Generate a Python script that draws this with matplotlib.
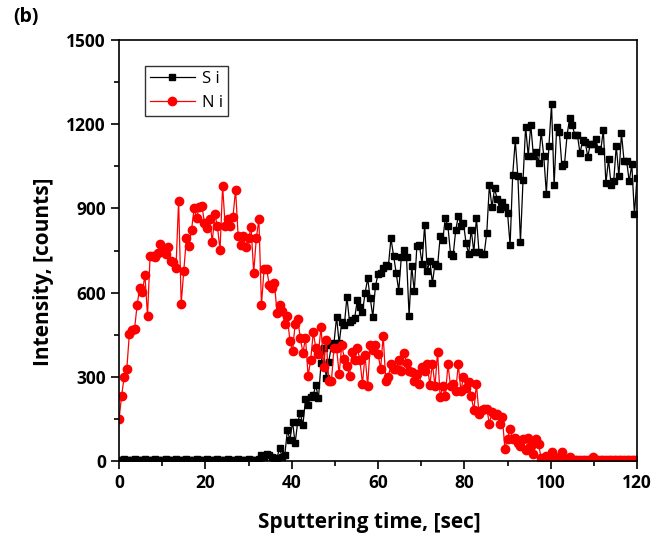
import numpy as np
import matplotlib
matplotlib.use("Agg")
import matplotlib.pyplot as plt
from matplotlib.ticker import MultipleLocator

# sputtering depth profile, one sample every 0.6 s
time_s = np.linspace(0, 120, 201)

si_counts = [
    5, 3, 6, 4, 5, 3, 6, 4, 5, 3, 6, 4, 5, 3, 6, 4, 5, 3, 6, 4,
    5, 3, 6, 4, 5, 3, 6, 4, 5, 3, 6, 4, 5, 3, 6, 4, 5, 3, 6, 4,
    5, 3, 6, 4, 5, 3, 6, 4, 5, 3, 6, 4, 5, 4, 6,
    22, 16, 26, 22, 16, 10, 12, 45, 15, 20,
    110, 75, 140, 63, 140, 170, 128, 220, 200, 229,
    236, 270, 223, 348, 401, 295, 354, 413, 420, 514,
    419, 496, 484, 585, 496, 502, 510, 573, 550, 532,
    597, 651, 580, 514, 623, 665, 669, 686, 698, 695,
    793, 732, 671, 606, 726, 753, 726, 518, 695, 604,
    765, 769, 702, 842, 677, 714, 634, 702, 695, 800,
    787, 867, 836, 738, 732, 822, 873, 836, 849, 775,
    738, 824, 744, 867, 744, 738, 738, 814, 983, 904,
    971, 934, 898, 922, 904, 885, 769, 1020, 1142, 1014,
    781, 1002, 1191, 1087, 1197, 1087, 1100, 1063, 1173, 1087,
    953, 1124, 1271, 983, 1191, 1173, 1051, 1057, 1161, 1222,
    1197, 1161, 1161, 1096, 1142, 1136, 1084, 1130, 1130, 1148,
    1112, 1106, 1179, 989, 1075, 983, 996, 1124, 1014, 1167,
    1069, 1069, 996, 1057, 879, 1010,
]

ni_counts = [
    148, 233, 301, 328, 454, 466, 471, 557, 618, 602,
    662, 518, 732, 732, 726, 742, 772, 748, 736, 763,
    714, 708, 689, 928, 561, 677, 793, 765, 824, 900,
    867, 906, 910, 849, 830, 861, 781, 879, 836, 751,
    980, 836, 861, 836, 870, 967, 800, 769, 800, 763,
    793, 832, 671, 793, 861, 557, 683, 683, 628, 616,
    634, 528, 557, 536, 487, 515, 426, 393, 487, 506,
    438, 386, 438, 304, 359, 459, 402, 383, 479, 334,
    432, 285, 285, 402, 402, 310, 414, 365, 340, 304,
    389, 359, 402, 359, 276, 377, 267, 414, 395, 414,
    383, 328, 447, 285, 298, 347, 328, 328, 359, 322,
    386, 349, 322, 316, 285, 310, 273, 334, 322, 347,
    271, 347, 267, 389, 227, 267, 230, 344, 267, 273,
    249, 344, 249, 300, 261, 283, 230, 181, 273, 169,
    181, 187, 187, 132, 175, 163, 169, 132, 157, 43,
    80, 114, 77, 83, 65, 53, 80, 40, 83, 53,
    26, 77, 59, 10, 8, 18, 10, 33, 12, 5,
    15, 33, 8, 5, 13, 5, 4, 3, 5, 3,
    4, 3, 5, 13, 4, 3, 5, 3, 4, 3,
    5, 3, 4, 3, 5, 3, 4, 3, 5, 3,
    4,
]

plt.rcParams['font.family'] = ['Open Sans', 'DejaVu Sans']

fig = plt.figure(figsize=(6.54, 5.39), dpi=100)
ax = fig.add_axes([0.1820, 0.1447, 0.7920, 0.7811])

ax.plot(time_s, si_counts, color='black', lw=0.9, marker='s', ms=5,
        mec='black', mfc='black', label='S i')
ax.plot(time_s, ni_counts, color='red', lw=0.9, marker='o', ms=6,
        mec='red', mfc='red', label='N i')

ax.set_xlim(0, 120)
ax.set_ylim(0, 1500)
ax.xaxis.set_major_locator(MultipleLocator(20))
ax.xaxis.set_minor_locator(MultipleLocator(10))
ax.yaxis.set_major_locator(MultipleLocator(300))
ax.yaxis.set_minor_locator(MultipleLocator(150))
ax.tick_params(which='both', direction='out', width=1.2, top=False, right=False)
ax.tick_params(which='major', length=6, labelsize=12.5)
ax.tick_params(which='minor', length=3.5)
for lab in ax.get_xticklabels() + ax.get_yticklabels():
    lab.set_fontweight('bold')
for sp in ax.spines.values():
    sp.set_linewidth(1.2)

ax.set_xlabel('Sputtering time, [sec]', fontsize=15, fontweight='bold')
ax.set_ylabel('Intensity, [counts]', fontsize=15, fontweight='bold')
ax.xaxis.label.set_va('center')
ax.yaxis.label.set_va('center')
ax.xaxis.set_label_coords(0.484, -0.147)
ax.yaxis.set_label_coords(-0.145, 0.449)

leg = ax.legend(loc='upper left', bbox_to_anchor=(0.05, 0.938), fontsize=12,
                frameon=True, fancybox=False, edgecolor='black',
                borderaxespad=0, handlelength=2.7, handletextpad=0.45,
                borderpad=0.3, labelspacing=0.45)
leg.get_frame().set_linewidth(1.0)

fig.text(0.02, 0.969, '(b)', fontsize=14, fontweight='bold', va='center')

fig.savefig('out.png', dpi=100)
